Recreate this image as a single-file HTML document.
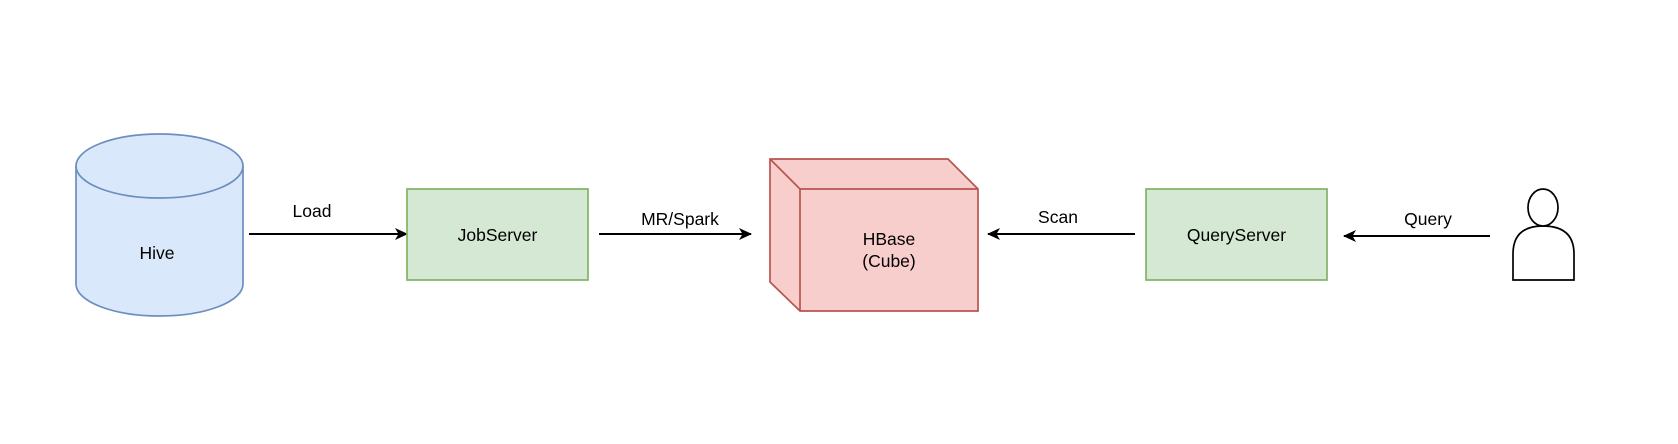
<!DOCTYPE html>
<html><head><meta charset="utf-8"><style>
html,body{margin:0;padding:0;background:#fff;}
svg{display:block;}
text{font-family:"Liberation Sans",Arial,sans-serif;font-size:17.5px;fill:#000;}
</style></head><body>
<svg width="1678" height="444" viewBox="0 0 1678 444" xmlns="http://www.w3.org/2000/svg">
<defs>
<marker id="ah" markerWidth="13" markerHeight="12" refX="12" refY="6" orient="auto" markerUnits="userSpaceOnUse">
<path d="M0,0 L13,6 L0,12 L3.5,6 Z" fill="#000"/>
</marker>
</defs>
<path d="M76,166 L76,284 A83.5,32 0 0 0 243,284 L243,166" fill="#dae8fc" stroke="#6c8ebf" stroke-width="1.7"/>
<ellipse cx="159.5" cy="166" rx="83.5" ry="32" fill="#dae8fc" stroke="#6c8ebf" stroke-width="1.7"/>
<text x="157" y="259" text-anchor="middle">Hive</text>
<line x1="249" y1="234" x2="407" y2="234" stroke="#000" stroke-width="2" marker-end="url(#ah)"/>
<text x="312" y="217" text-anchor="middle">Load</text>
<rect x="407" y="189" width="181" height="91" fill="#d5e8d4" stroke="#82b366" stroke-width="1.7"/>
<text x="497.5" y="241" text-anchor="middle">JobServer</text>
<line x1="599" y1="234" x2="751" y2="234" stroke="#000" stroke-width="2" marker-end="url(#ah)"/>
<text x="680" y="225" text-anchor="middle">MR/Spark</text>
<path d="M770,159 L948,159 L978,189 L978,311 L800,311 L770,282 Z" fill="#f8cecc" stroke="#b85450" stroke-width="1.7"/>
<path d="M770,159 L800,189 L978,189 M800,189 L800,311" fill="none" stroke="#b85450" stroke-width="1.7"/>
<text x="889" y="245" text-anchor="middle">HBase</text>
<text x="889" y="267" text-anchor="middle">(Cube)</text>
<line x1="1135" y1="234" x2="988" y2="234" stroke="#000" stroke-width="2" marker-end="url(#ah)"/>
<text x="1058" y="223" text-anchor="middle">Scan</text>
<rect x="1146" y="189" width="181" height="91" fill="#d5e8d4" stroke="#82b366" stroke-width="1.7"/>
<text x="1236.5" y="241" text-anchor="middle">QueryServer</text>
<line x1="1490" y1="236" x2="1344" y2="236" stroke="#000" stroke-width="2" marker-end="url(#ah)"/>
<text x="1428" y="225" text-anchor="middle">Query</text>
<path d="M1513,280 L1513,254 Q1513,226 1543,226 Q1574,226 1574,254 L1574,280 Z" fill="#fff" stroke="#000" stroke-width="1.7"/>
<ellipse cx="1543" cy="207.5" rx="15" ry="18.5" fill="#fff" stroke="#000" stroke-width="1.7"/>
</svg>
</body></html>
